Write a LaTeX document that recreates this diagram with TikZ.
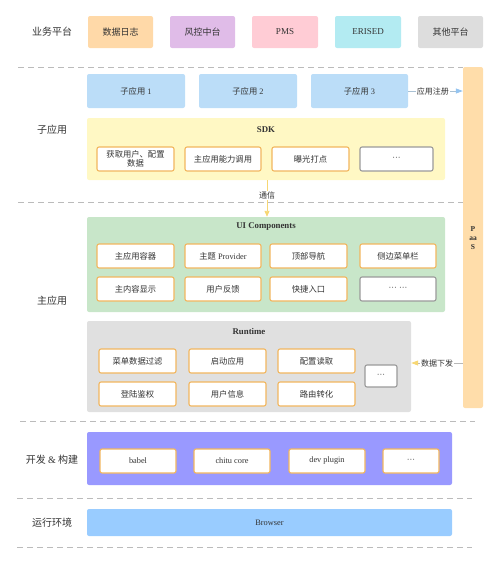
\documentclass[tikz,border=0pt]{standalone}
\usepackage{fontspec}
\setmainfont{Liberation Serif}
\newfontfamily\cjk{Noto Sans CJK SC}
\usetikzlibrary{arrows.meta}
\definecolor{txt}{HTML}{333333}
\definecolor{cLog}{HTML}{FFD9A8}
\definecolor{cRisk}{HTML}{E0BCE8}
\definecolor{cPms}{HTML}{FFCCD5}
\definecolor{cEri}{HTML}{B3EBF2}
\definecolor{cOth}{HTML}{DDDDDD}
\definecolor{cSub}{HTML}{BBDDF8}
\definecolor{cSdk}{HTML}{FFF8C4}
\definecolor{cUi}{HTML}{C8E6C9}
\definecolor{cRun}{HTML}{E0E0E0}
\definecolor{cDev}{HTML}{9999FF}
\definecolor{cBro}{HTML}{99CCFF}
\definecolor{cPaas}{HTML}{FFDDAA}
\definecolor{cOrg}{HTML}{F2B65E}
\definecolor{cGrayB}{HTML}{9A9A9A}
\definecolor{cDash}{HTML}{BBBBBB}
\definecolor{cTipB}{HTML}{95C4F0}
\definecolor{cTipY}{HTML}{F7D774}
\tikzset{
  every node/.style={text=txt, inner sep=1pt},
  blk/.style={rounded corners=2pt, draw=none, font=\fontsize{9}{10}\selectfont},
  inbox/.style={rounded corners=2pt, fill=white, draw=cOrg, line width=1.1pt, minimum height=24pt, minimum width=77pt, font=\fontsize{8.3}{9.5}\selectfont, align=center},
  graybox/.style={inbox, draw=cGrayB},
  ttl/.style={font=\bfseries\fontsize{8.8}{10}\selectfont},
  side/.style={font=\cjk\fontsize{10}{12}\selectfont},
  sep/.style={draw=cDash, line width=0.8pt, dash pattern=on 6pt off 4pt},
  lbl/.style={fill=white, font=\cjk\fontsize{8}{9}\selectfont, inner sep=1pt}
}
\begin{document}
\begin{tikzpicture}[x=1pt,y=-1pt]
\useasboundingbox (0,0) rectangle (500,570);
% separators
\draw[sep] (18,67) -- (463,67);
\draw[sep] (18,202) -- (463,202);
\draw[sep] (20,421) -- (475,421);
\draw[sep] (17,498) -- (472,498);
\draw[sep] (17,547) -- (472,547);
% side labels
\node[side] (l1) at (52,32) {业务平台};
\node[side] (l2) at (52,130) {子应用};
\node[side] (l3) at (52,301) {主应用};
\node[side] (l4) at (52,460) {开发 {\rmfamily\&} 构建};
\node[side] (l5) at (52,523) {运行环境};
% top platforms
\node[blk, fill=cLog, minimum width=65pt, minimum height=32pt] (p1) at (120.5,32) {\cjk 数据日志};
\node[blk, fill=cRisk, minimum width=65pt, minimum height=32pt] (p2) at (202.5,32) {\cjk 风控中台};
\node[blk, fill=cPms, minimum width=66pt, minimum height=32pt] (p3) at (285,32) {PMS};
\node[blk, fill=cEri, minimum width=66pt, minimum height=32pt] (p4) at (368,32) {ERISED};
\node[blk, fill=cOth, minimum width=65pt, minimum height=32pt] (p5) at (450.5,32) {\cjk 其他平台};
% PaaS
\node[blk, fill=cPaas, minimum width=20pt, minimum height=341pt] (paas) at (473,237.5) {};
\node[font=\bfseries\fontsize{7.5}{10}\selectfont, align=center, inner sep=0pt] (paast) at (473,238) {P\\[-1pt]aa\\[-1pt]S};
% sub apps
\node[blk, fill=cSub, minimum width=98pt, minimum height=34pt, font=\fontsize{8.3}{9.5}\selectfont] (s1) at (136,91) {{\cjk 子应用} 1};
\node[blk, fill=cSub, minimum width=98pt, minimum height=34pt, font=\fontsize{8.3}{9.5}\selectfont] (s2) at (248,91) {{\cjk 子应用} 2};
\node[blk, fill=cSub, minimum width=97pt, minimum height=34pt, font=\fontsize{8.3}{9.5}\selectfont] (s3) at (359.5,91) {{\cjk 子应用} 3};
% SDK
\node[blk, fill=cSdk, minimum width=358pt, minimum height=62pt] (sdk) at (266,149) {};
\node[ttl] (sdkt) at (266,130) {SDK};
\node[inbox] (k1) at (135.5,159) {\cjk 获取用户、配置\\[-1pt]\cjk 数据};
\node[inbox, minimum width=76pt] (k2) at (223,159) {\cjk 主应用能力调用};
\node[inbox] (k3) at (310.5,159) {\cjk 曝光打点};
\node[graybox, minimum width=73pt] (k4) at (396.5,159) {···};
% UI Components
\node[blk, fill=cUi, minimum width=358pt, minimum height=95pt] (ui) at (266,264.5) {};
\node[ttl] (uit) at (266,227) {UI Components};
\node[inbox] (u1) at (135.5,256) {\cjk 主应用容器};
\node[inbox, minimum width=76pt] (u2) at (223,256) {{\cjk 主题} Provider};
\node[inbox] (u3) at (308.5,256) {\cjk 顶部导航};
\node[inbox, minimum width=76pt] (u4) at (398,256) {\cjk 侧边菜单栏};
\node[inbox] (u5) at (135.5,289) {\cjk 主内容显示};
\node[inbox, minimum width=76pt] (u6) at (223,289) {\cjk 用户反馈};
\node[inbox] (u7) at (308.5,289) {\cjk 快捷入口};
\node[graybox, minimum width=76pt] (u8) at (398,289) {··· ···};
% Runtime
\node[blk, fill=cRun, minimum width=324pt, minimum height=91pt] (rt) at (249,366.5) {};
\node[ttl] (rtt) at (249,331) {Runtime};
\node[inbox] (r1) at (137.5,361) {\cjk 菜单数据过滤};
\node[inbox] (r2) at (227.5,361) {\cjk 启动应用};
\node[inbox] (r3) at (316.5,361) {\cjk 配置读取};
\node[inbox] (r4) at (137.5,394) {\cjk 登陆鉴权};
\node[inbox] (r5) at (227.5,394) {\cjk 用户信息};
\node[inbox] (r6) at (316.5,394) {\cjk 路由转化};
\node[graybox, minimum width=32pt, minimum height=22pt] (r7) at (381,376) {···};
% Dev & build
\node[blk, fill=cDev, minimum width=365pt, minimum height=53pt] (dev) at (269.5,458.5) {};
\node[inbox, minimum width=76pt] (d1) at (138,461) {babel};
\node[inbox, minimum width=76pt] (d2) at (232,461) {chitu core};
\node[inbox, minimum width=76pt] (d3) at (327,461) {dev plugin};
\node[inbox, minimum width=56pt] (d4) at (411,461) {···};
% Browser
\node[blk, fill=cBro, minimum width=365pt, minimum height=27pt, font=\fontsize{8.3}{9.5}\selectfont] (bro) at (269.5,522.5) {Browser};
% connectors
\draw[draw=cSub!70!gray, line width=0.8pt, -{Triangle[length=7pt,width=5pt,color=cTipB,fill=cTipB]}] (s3.east) -- (paas.west |- s3.east) node[lbl, pos=0.45] (reg) {应用注册};
\draw[draw=cGrayB!70, line width=0.8pt, -{Triangle[length=7pt,width=5pt,color=cTipY,fill=cTipY]}] (paas.west |- 0,363) -- (rt.east |- 0,363) node[lbl, pos=0.5] (down) {数据下发};
\draw[draw=cTipY, line width=0.9pt, -{Triangle[length=6pt,width=5pt,color=cTipY,fill=cTipY]}] (sdk.south -| 267,0) -- (ui.north -| 267,0) node[lbl, pos=0.42] (comm) {通信};
\end{tikzpicture}
\end{document}
